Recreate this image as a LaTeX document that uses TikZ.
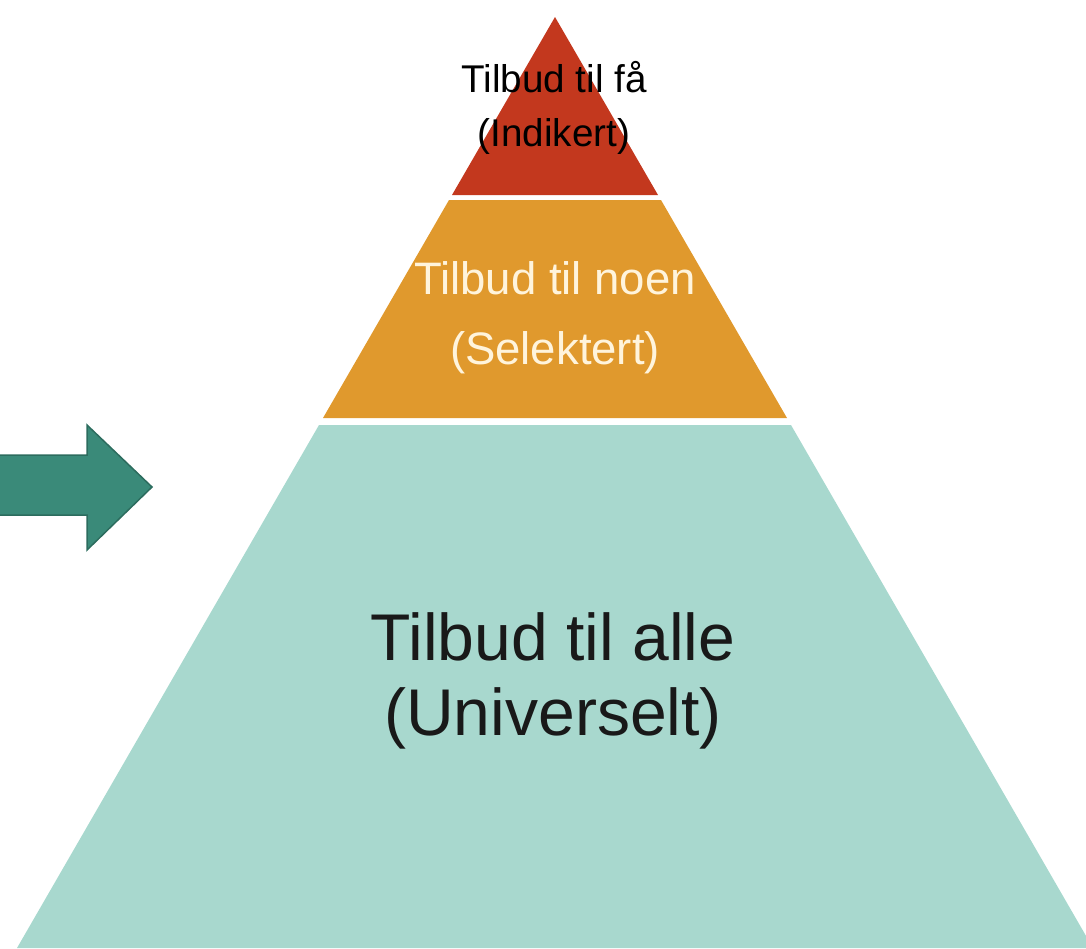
\documentclass[tikz,border=0pt]{standalone}
\usepackage{fontspec}
\setmainfont{Liberation Sans}
\definecolor{topred}{RGB}{195,56,30}
\definecolor{midorange}{RGB}{224,153,45}
\definecolor{basegreen}{RGB}{168,216,206}
\definecolor{arrowgreen}{RGB}{58,138,121}
\definecolor{arrowedge}{RGB}{44,108,94}
\definecolor{creamtext}{RGB}{255,244,220}
\tikzset{
  band/.style={draw=none},
  bandlabel/.style={align=center, inner sep=0pt},
}
\begin{document}
\begin{tikzpicture}[x=0.02cm, y=-0.02cm]
        \useasboundingbox (0,0) rectangle (1086,948);
        \clip (0,0) rectangle (1086,948);

        % Arrow on the left
        \fill [arrowgreen, draw=arrowedge, line width=0.03cm]
          (-10,455) -- (87,455) -- (87,425) -- (152,487) -- (87,550) -- (87,515) -- (-10,515) -- cycle;

        % Bottom band
        \fill [band, basegreen] (319,425) -- (791,425) -- (1093,948) -- (17,948) -- cycle;
        % Middle band
        \fill [band, midorange] (449,200) -- (661,200) -- (787,418) -- (323,418) -- cycle;
        % Top band
        \fill [band, topred] (555,17) -- (658,195) -- (452,195) -- cycle;

        % Labels
        \node [bandlabel, font=\fontsize{22pt}{30.7pt}\selectfont, text=black] (fewlabel) at (554,108)
          {Tilbud til få\\(Indikert)};
        \node [bandlabel, font=\fontsize{25.9pt}{39.8pt}\selectfont, text=creamtext] (somelabel) at (555,318)
          {Tilbud til noen\\(Selektert)};
        \node [bandlabel, font=\fontsize{37.6pt}{42.7pt}\selectfont, text=black!90] (alllabel) at (553,681)
          {Tilbud til alle\\(Universelt)};
\end{tikzpicture}
\end{document}
